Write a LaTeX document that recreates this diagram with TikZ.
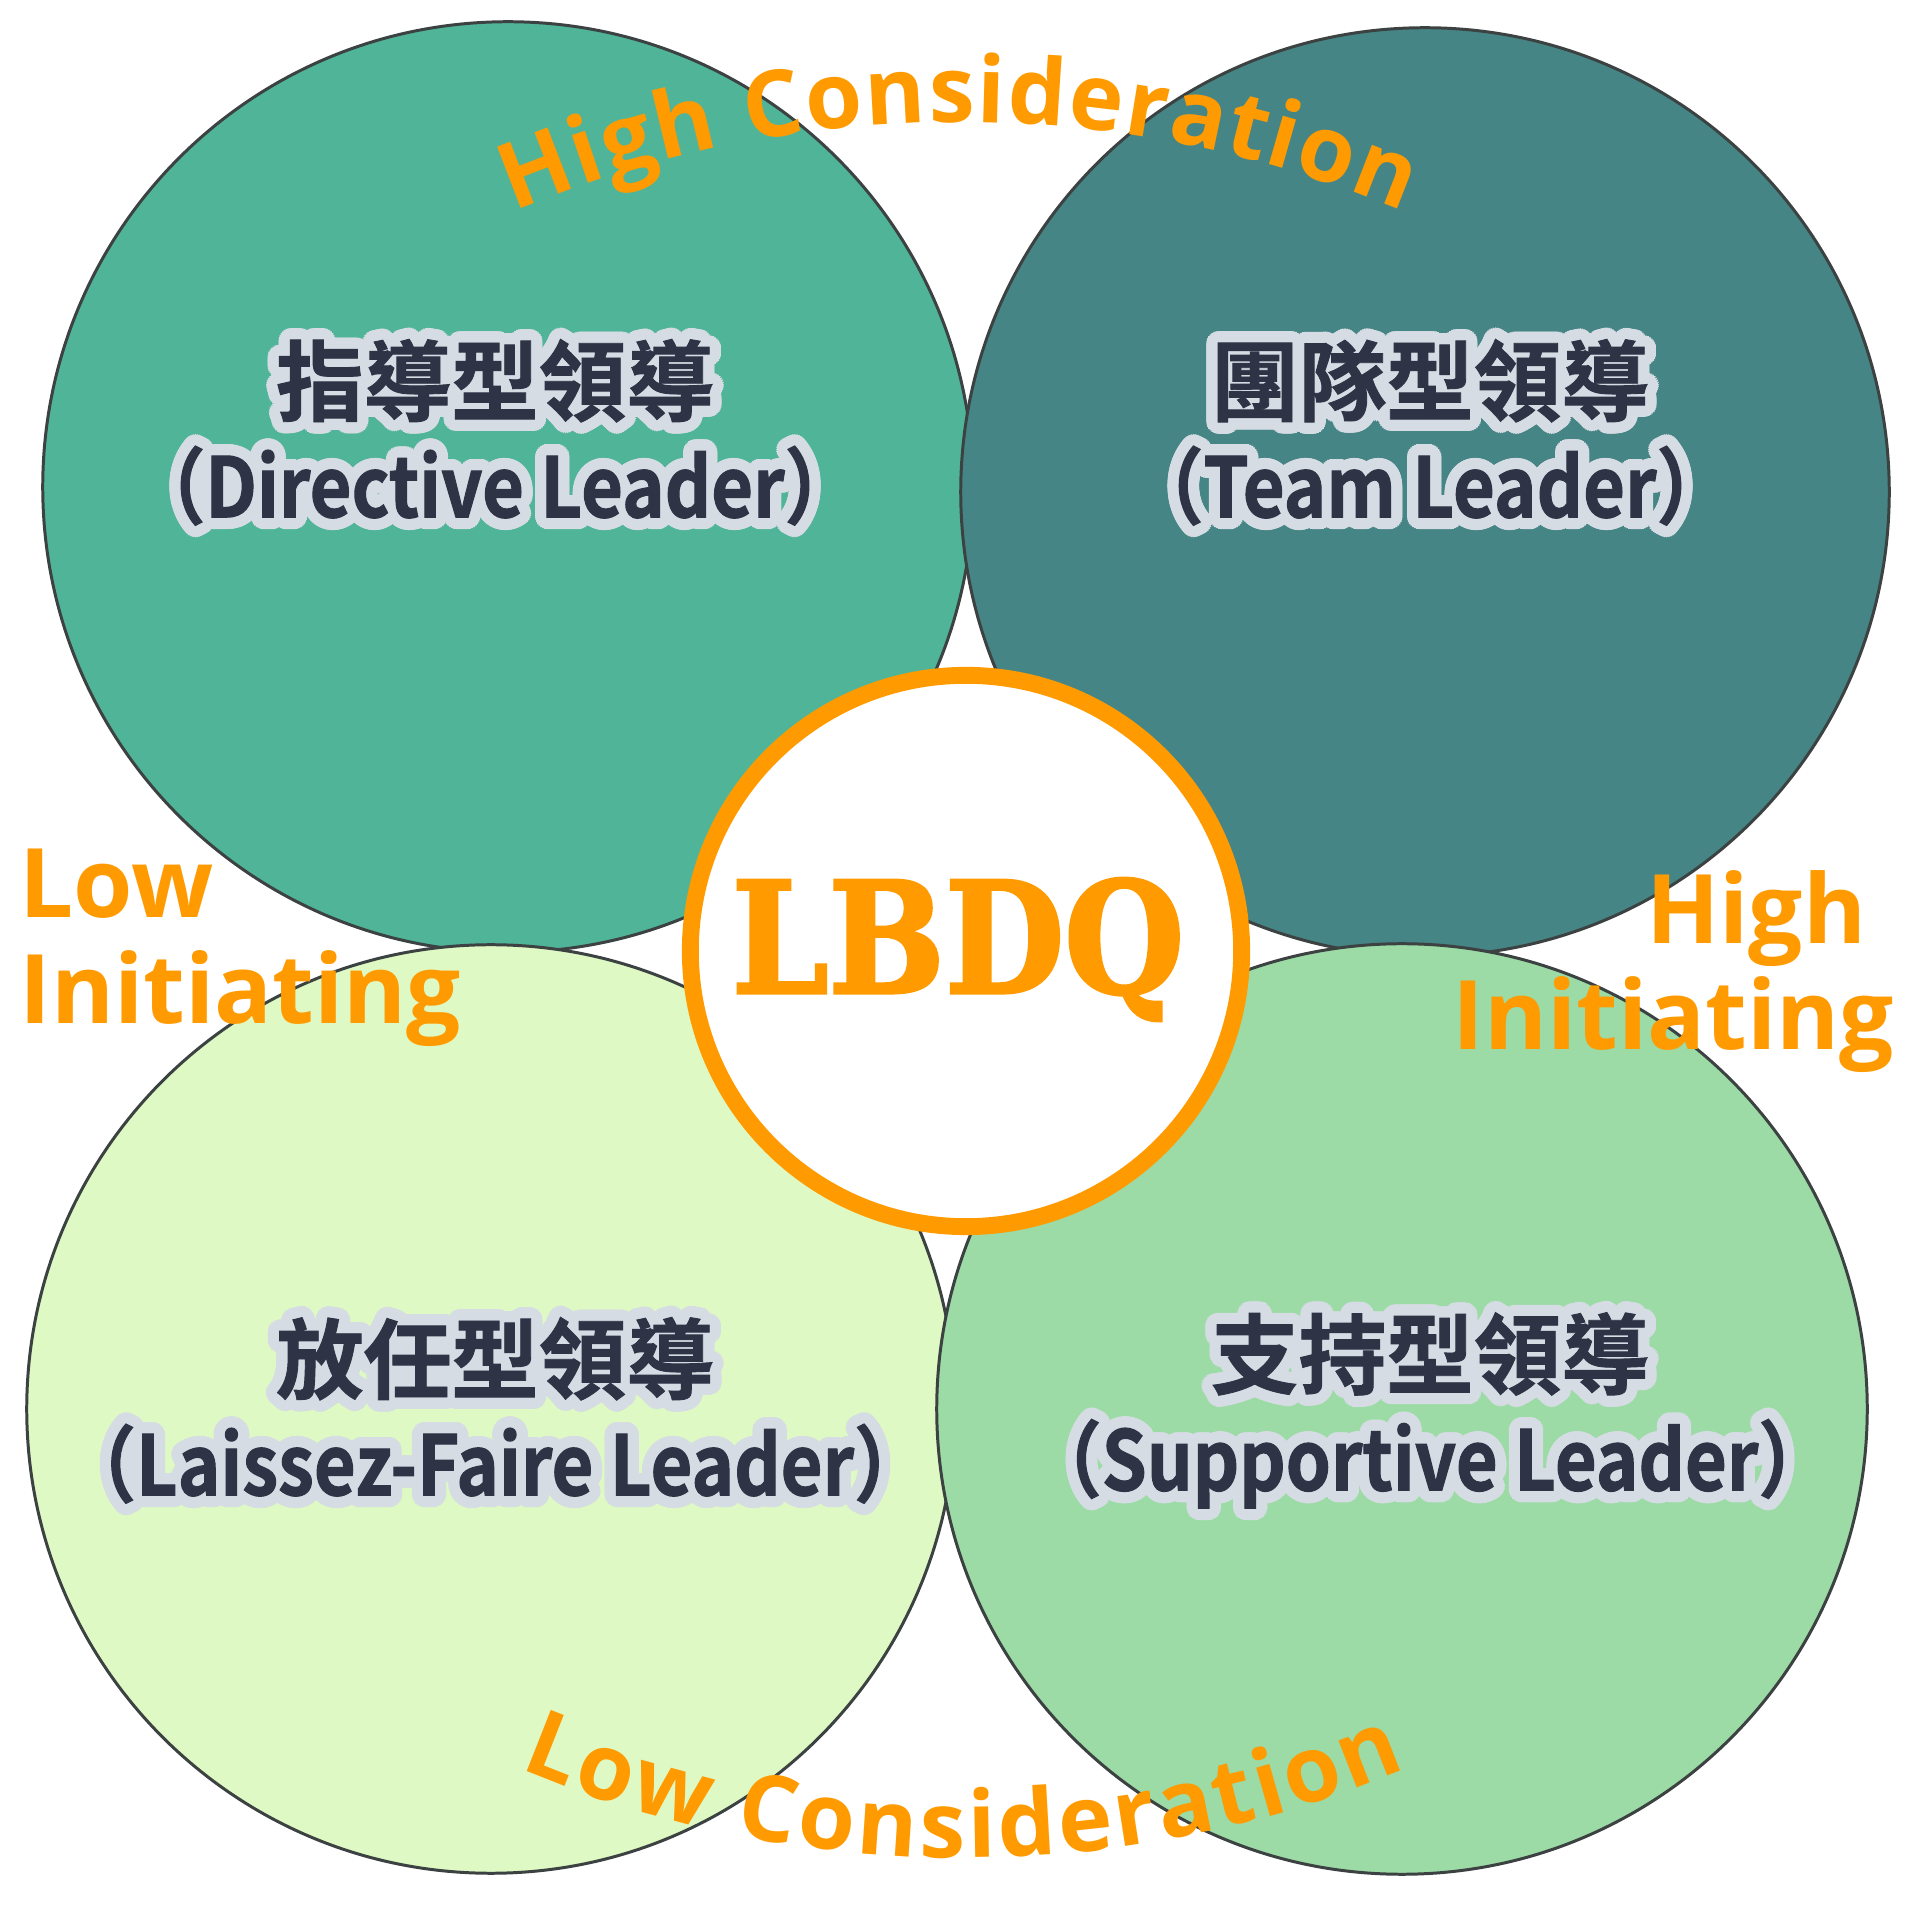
\documentclass[tikz,border=0pt]{standalone}
\usepackage{fontspec}
\setmainfont{Open Sans}
\newfontfamily\cjkfont{Noto Sans CJK TC}[BoldFont={* Bold}, FakeBold=1]
\newfontfamily\cjklatin{Noto Sans CJK TC}[BoldFont={* Bold}, FakeStretch=0.87, FakeBold=1.2]
\newfontfamily\slabfont{DejaVu Serif}[FakeStretch=0.89, FakeBold=2]
\usepackage[copies]{contour}
\contourlength{3.2pt}
\contournumber{32}
\definecolor{tlfill}{HTML}{50B498}
\definecolor{trfill}{HTML}{468585}
\definecolor{blfill}{HTML}{DEF9C4}
\definecolor{brfill}{HTML}{9CDBA6}
\definecolor{edge}{HTML}{3C4242}
\definecolor{accent}{HTML}{FF9A00}
\definecolor{ink}{HTML}{2E3446}
\definecolor{halo}{HTML}{D6DCE3}
\usetikzlibrary{decorations.text, positioning}

\newcommand{\quadname}[2]{\contour{halo}{#1}\\{\cjklatin\bfseries\fontsize{23.6pt}{29.3pt}\selectfont\contour{halo}{#2}}}

\begin{document}
\begin{tikzpicture}[x=0.01cm, y=0.01cm,
        quad/.style={circle, draw=edge, line width=0.85pt, inner sep=0pt},
        hub/.style={circle, draw=accent, line width=4.8pt, fill=white, inner sep=0pt, minimum size=5.51cm},
        region/.style={align=center, inner sep=0pt, text=ink, font=\cjkfont\bfseries\fontsize{24.9pt}{29.3pt}\selectfont},
        axis/.style={inner sep=0pt, text=accent, font=\bfseries\fontsize{27.3pt}{30.2pt}\selectfont},
        curve/.style={decorate, decoration={text along path, text align={fit to path},
            text={|\bfseries\fontsize{26.2pt}{30pt}\selectfont\color{accent}|#1}}}
    ]
        \fill[white] (0,0) rectangle (1920,1920);
        \useasboundingbox (0,0) rectangle (1920,1920);
        % four quadrants
        \node[quad, fill=tlfill, minimum size=9.30cm] (tl) at (508,1433) {};
        \node[quad, fill=trfill, minimum size=9.28cm] (tr) at (1425,1428) {};
        \node[quad, fill=blfill, minimum size=9.28cm] (bl) at (491,511) {};
        \node[quad, fill=brfill, minimum size=9.30cm] (br) at (1402,511) {};
        \node[hub] (hub) at (966,969) {};
        \node[anchor=base, inner sep=0pt, text=accent, font=\slabfont\bfseries\fontsize{44pt}{44pt}\selectfont] (lbdq) at (958,927) {LBDQ};
        % leader types
        \node[region] (tltext) at (495,1482) {\quadname{指導型領導}{（Directive Leader）}};
        \node[region] (trtext) at (1430,1482) {\quadname{團隊型領導}{（Team Leader）}};
        \node[region] (bltext) at (495,504) {\quadname{放任型領導}{（Laissez-Faire Leader）}};
        \node[region] (brtext) at (1430,504) {\quadname{支持型領導}{（Supportive Leader）}};
        % axes
        \node[axis, align=left, anchor=north west] (lowinit) at (19,1072) {Low\\Initiating};
        \node[axis, align=right, anchor=north east] (highinit) at (1895,1050) {High\kern8pt\\Initiating};
        \path[curve={High Consideration}] (959,650) ++(112.8:1148) arc[start angle=112.8, end angle=67.2, radius=1148];
        \path[curve={Low Consideration}] (963,1207) ++(247.2:1145) arc[start angle=247.2, end angle=292.8, radius=1145];
    \end{tikzpicture}
\end{document}
